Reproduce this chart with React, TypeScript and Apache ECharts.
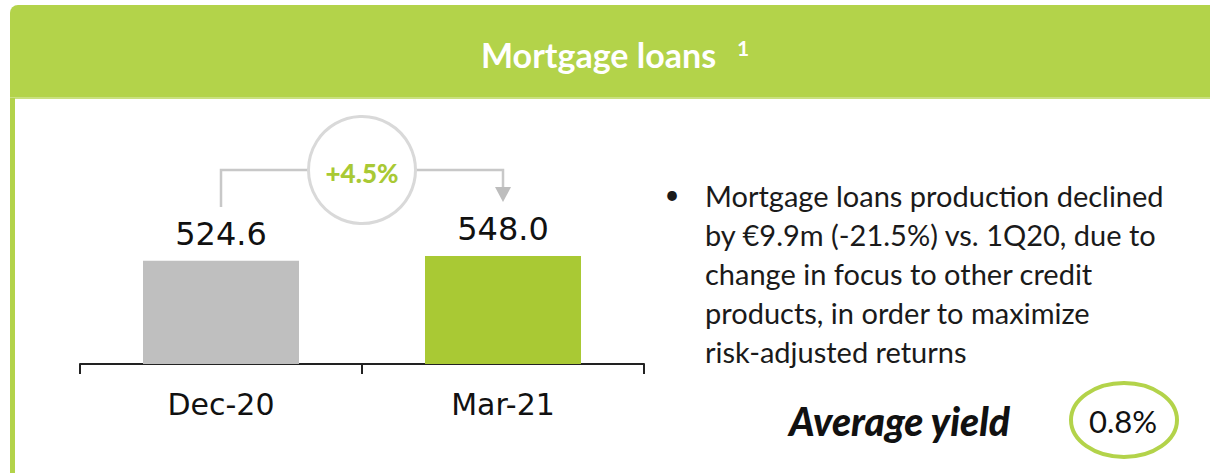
import React, { useEffect, useRef } from "react";
import * as echarts from "echarts";

const categories = ["Dec-20", "Mar-21"];
const values = [524.6, 548.0];
const barColors = ["#BFBFBF", "#A9C934"];
const changeLabel = "+4.5%";
const titleText = "Mortgage loans";
const titleNote = "1";
const bulletLines = [
  "Mortgage loans production declined",
  "by €9.9m (-21.5%) vs. 1Q20, due to",
  "change in focus to other credit",
  "products, in order to maximize",
  "risk-adjusted returns",
];
const yieldLabel = "Average yield";
const yieldValue = "0.8%";

const GREEN = "#B3D34A";
const BODY_FONT = "Lato";
const NUM_FONT = "DejaVu Sans";

export default function App() {
  const ref = useRef<HTMLDivElement>(null);
  useEffect(() => {
    if (!ref.current) return;
    const chart = echarts.init(ref.current, null, { renderer: "svg" });
    chart.setOption({
      animation: false,
      grid: { left: 80, right: 566, top: 100, bottom: 109 },
      xAxis: {
        type: "category",
        data: categories,
        axisLine: { lineStyle: { color: "#222", width: 2 } },
        axisTick: { show: true, length: 10, lineStyle: { color: "#222", width: 2 } },
        axisLabel: { fontSize: 30, color: "#111", fontFamily: NUM_FONT, margin: 25 },
      },
      yAxis: { type: "value", min: 0, max: 1340, show: false },
      series: [
        {
          type: "bar",
          barWidth: 156,
          data: values.map((v, i) => ({ value: v, itemStyle: { color: barColors[i] } })),
          label: {
            show: true,
            position: "top",
            distance: 11,
            fontSize: 32,
            fontFamily: NUM_FONT,
            color: "#111",
            formatter: (p: any) => Number(p.value).toFixed(1),
          },
        },
      ],
    });

    const x0 = chart.convertToPixel({ xAxisIndex: 0 }, categories[0]) as number;
    const x1 = chart.convertToPixel({ xAxisIndex: 0 }, categories[1]) as number;
    const cx = (x0 + x1) / 2;
    const cy = 170;
    const r = 53.5;
    const lineColor = "#C8C8C8";

    const graphic: any[] = [
      { type: "rect", shape: { x: 10, y: 5, width: 1200, height: 93, r: [8, 0, 0, 0] }, style: { fill: GREEN } },
      { type: "rect", shape: { x: 10, y: 97, width: 1200, height: 2 }, style: { fill: "#C9E07F" } },
      { type: "rect", shape: { x: 10, y: 98, width: 5, height: 375 }, style: { fill: GREEN } },
      {
        type: "text",
        x: 481,
        y: 54,
        style: { text: titleText, fill: "#fff", font: `bold 34px ${BODY_FONT}`, align: "left", verticalAlign: "middle" },
      },
      {
        type: "text",
        x: 737,
        y: 47,
        style: { text: titleNote, fill: "#fff", font: `bold 21px ${BODY_FONT}`, align: "left", verticalAlign: "middle" },
      },
      {
        type: "polyline",
        shape: { points: [[x0, 207], [x0, cy], [cx - r, cy]] },
        style: { stroke: lineColor, lineWidth: 2.5, fill: null },
      },
      {
        type: "polyline",
        shape: { points: [[cx + r, cy], [x1, cy], [x1, 189]] },
        style: { stroke: lineColor, lineWidth: 2.5, fill: null },
      },
      {
        type: "polygon",
        shape: { points: [[x1 - 8, 187], [x1 + 8, 187], [x1, 202]] },
        style: { fill: "#BDBDBD" },
      },
      {
        type: "circle",
        shape: { cx, cy, r },
        style: { fill: "#fff", stroke: "#D9D9D9", lineWidth: 3 },
      },
      {
        type: "text",
        x: cx,
        y: cy + 3,
        style: { text: changeLabel, fill: "#A9C934", font: `900 26px ${BODY_FONT}`, align: "center", verticalAlign: "middle" },
      },
      {
        type: "text",
        x: 672,
        y: 194,
        style: { text: "•", fill: "#1a1a1a", font: `26px ${BODY_FONT}`, align: "center", verticalAlign: "middle" },
      },
      ...bulletLines.map((t, i) => ({
        type: "text",
        x: 705,
        y: 195 + i * 39,
        style: { text: t, fill: "#1a1a1a", font: `29px ${BODY_FONT}`, align: "left", verticalAlign: "middle" },
      })),
      {
        type: "text",
        x: 789,
        y: 421,
        style: { text: yieldLabel, fill: "#111", font: `italic 900 39px ${BODY_FONT}`, align: "left", verticalAlign: "middle" },
      },
      {
        type: "ellipse",
        shape: { cx: 1124, cy: 420, rx: 53, ry: 37 },
        style: { fill: "#fff", stroke: GREEN, lineWidth: 4 },
      },
      {
        type: "text",
        x: 1123,
        y: 421,
        style: { text: yieldValue, fill: "#111", font: `31px ${BODY_FONT}`, align: "center", verticalAlign: "middle" },
      },
    ];
    chart.setOption({ graphic });
    return () => chart.dispose();
  }, []);
  return (
    <div
      ref={ref}
      style={{ position: "fixed", left: 0, top: 0, width: 1210, height: 473, background: "#fff" }}
    />
  );
}
